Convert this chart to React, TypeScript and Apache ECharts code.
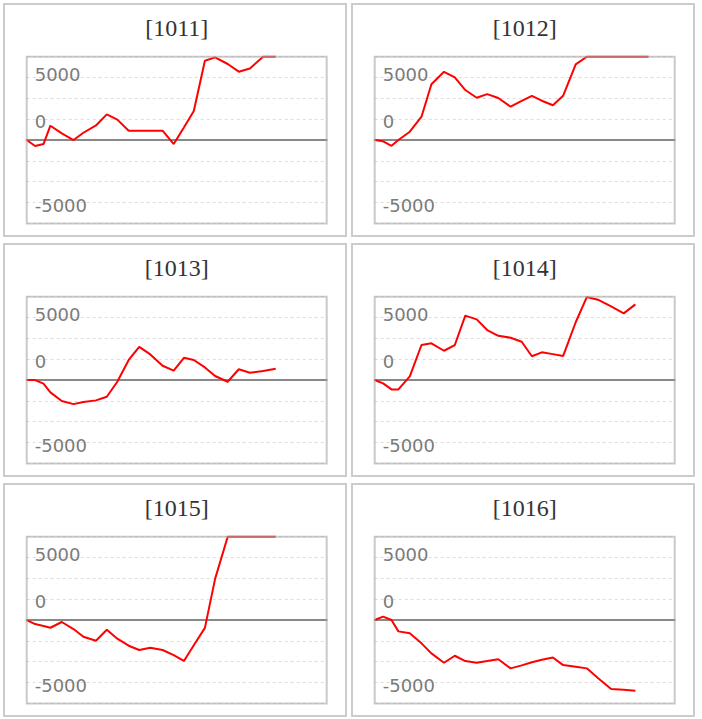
import React, { useEffect, useRef } from "react";
import * as echarts from "echarts";

// x position of each step, as a share (%) of the period shown
const xSteps = [0, 2.8, 5.6, 7.9, 11.7, 15.6, 18.9, 23.1, 26.7, 30.2, 34.0, 37.5, 41.2, 45.3, 49.0, 52.4, 55.7, 59.4, 62.8, 67.0, 70.7, 74.4, 78.8, 83.0, 86.9, 91.3];

const panelNames = ["[1011]", "[1012]", "[1013]", "[1014]", "[1015]", "[1016]"];

const p1011 = [0, -460, -310, 1100, 510, 0, 560, 1120, 1970, 1570, 720, 720, 720, 720, -310, 970, 2230, 6090, 6350, 5840, 5250, 5500, 6400, 6400];
const p1012 = [0, -100, -440, 0, 640, 1790, 4280, 5240, 4810, 3840, 3250, 3530, 3230, 2560, 3000, 3390, 3020, 2670, 3400, 5810, 6400, 6400, 6400, 6400, 6400, 6400];
const p1013 = [0, 0, -270, -950, -1610, -1850, -1690, -1560, -1280, -130, 1540, 2550, 1970, 1100, 720, 1710, 1540, 970, 310, -130, 830, 560, 690, 860];
const p1014 = [0, -260, -720, -720, 280, 2690, 2820, 2250, 2690, 4950, 4660, 3840, 3400, 3250, 2940, 1830, 2130, 1990, 1840, 4440, 6370, 6170, 5650, 5120, 5810];
const p1015 = [0, -310, -450, -590, -150, -690, -1280, -1590, -740, -1430, -1970, -2300, -2130, -2300, -2690, -3140, -1930, -600, 3160, 6400, 6400, 6400, 6400, 6400];
const p1016 = [0, 260, 0, -870, -1020, -1790, -2560, -3280, -2740, -3150, -3280, -3150, -3010, -3710, -3480, -3240, -3050, -2870, -3460, -3580, -3710, -4450, -5300, -5360, -5430];

const seriesValues = [p1011, p1012, p1013, p1014, p1015, p1016];

const yLabelValues = [5000, 0, -5000];
const yMin = -6400;
const yMax = 6400;
const yStep = 1600;

export default function App() {
  const ref = useRef<HTMLDivElement>(null);

  useEffect(() => {
    if (!ref.current) return;
    const chart = echarts.init(ref.current, null, { renderer: "svg" });

    const panelW = 342;
    const panelH = 232;
    const pitchX = 348;
    const pitchY = 240;
    const originX = 4;
    const originY = 4;
    const plotOffX = 22.7;
    const plotOffY = 52.7;
    const plotW = 300;
    const plotH = 166.7;

    const grids: any[] = [];
    const xAxes: any[] = [];
    const yAxes: any[] = [];
    const series: any[] = [];
    const titles: any[] = [];
    const graphics: any[] = [];

    panelNames.forEach((name, i) => {
      const col = i % 2;
      const row = Math.floor(i / 2);
      const px = originX + col * pitchX;
      const py = originY + row * pitchY;
      graphics.push({
        type: "rect",
        z: -10,
        shape: { x: px, y: py, width: panelW, height: panelH },
        style: { fill: "#ffffff", stroke: "#cccccc", lineWidth: 2 },
      });
      const gl = px + plotOffX;
      const gt = py + plotOffY;
      graphics.push({
        type: "rect",
        z: 100,
        silent: true,
        shape: { x: gl, y: gt, width: plotW, height: plotH },
        style: { fill: "none", stroke: "rgba(170,170,170,0.62)", lineWidth: 2 },
      });
      grids.push({
        left: gl,
        top: gt,
        width: plotW,
        height: plotH,
        show: false,
        containLabel: false,
      });
      titles.push({
        text: name,
        left: gl + plotW / 2,
        top: py + 12,
        textAlign: "center",
        padding: 0,
        textStyle: {
          fontFamily: "Liberation Serif",
          fontSize: 24,
          fontWeight: "normal",
          color: "#333333",
        },
      });
      xAxes.push({
        type: "value",
        gridIndex: i,
        min: 0,
        max: 100,
        axisLine: { show: true, onZero: true, lineStyle: { color: "#888888", width: 2 } },
        axisTick: { show: false },
        axisLabel: { show: false },
        splitLine: { show: false },
      });
      yAxes.push({
        type: "value",
        gridIndex: i,
        min: yMin,
        max: yMax,
        interval: yStep,
        axisLine: { show: false },
        axisTick: { show: false },
        splitLine: { show: true, lineStyle: { color: "#dddddd", width: 1, type: [3, 3] } },
        axisLabel: {
          show: true,
          inside: true,
          margin: 8,
          customValues: yLabelValues,
          color: "#7b7b7b",
          fontFamily: "DejaVu Sans",
          fontSize: 18,
          formatter: (v: number) => (Math.round(v) === 0 ? "{z|0}" : String(Math.round(v))),
          rich: {
            z: {
              color: "#7b7b7b",
              fontFamily: "DejaVu Sans",
              fontSize: 18,
              padding: [0, 0, 37, 0],
            },
          },
        },
      });
      const vals = seriesValues[i];
      series.push({
        name,
        type: "line",
        xAxisIndex: i,
        yAxisIndex: i,
        clip: false,
        data: vals.map((v, j) => [xSteps[j], v]),
        showSymbol: false,
        symbol: "none",
        lineStyle: { color: "#ff0000", width: 2 },
        itemStyle: { color: "#ff0000" },
        z: 3,
      });
    });

    chart.setOption({
      animation: false,
      backgroundColor: "#ffffff",
      title: titles,
      grid: grids,
      xAxis: xAxes,
      yAxis: yAxes,
      series,
      graphic: graphics,
    });

    return () => chart.dispose();
  }, []);

  return (
    <div
      ref={ref}
      style={{ position: "absolute", left: 0, top: 0, width: 702, height: 719 }}
    />
  );
}
